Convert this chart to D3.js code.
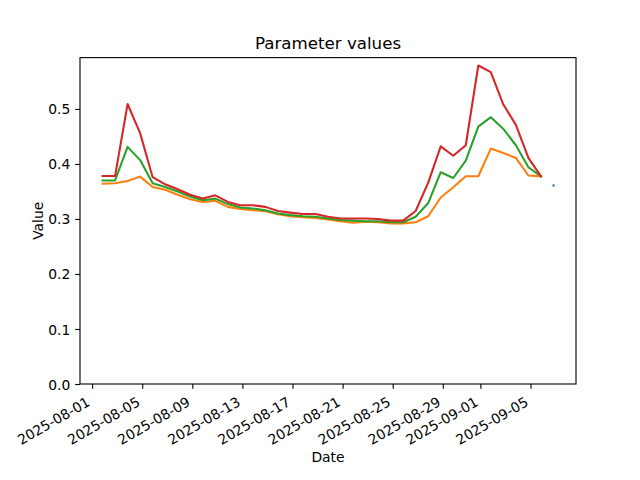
<!DOCTYPE html>
<html>
<head>
<meta charset="utf-8">
<script src="https://d3js.org/d3.v7.min.js"></script>
<style>
  html, body { margin: 0; padding: 0; background: #fff; }
  svg { display: block; font-family: "DejaVu Sans", sans-serif; }
</style>
</head>
<body>
<svg id="chart" width="640" height="480"></svg>
<script>
// ---- data ----
const dates = [
  "2025-08-01T20:00","2025-08-02T20:00","2025-08-03T20:00","2025-08-04T20:00","2025-08-05T20:00",
  "2025-08-06T20:00","2025-08-07T20:00","2025-08-08T20:00","2025-08-09T20:00","2025-08-10T20:00",
  "2025-08-11T20:00","2025-08-12T20:00","2025-08-13T20:00","2025-08-14T20:00","2025-08-15T20:00",
  "2025-08-16T20:00","2025-08-17T20:00","2025-08-18T20:00","2025-08-19T20:00","2025-08-20T20:00",
  "2025-08-21T20:00","2025-08-22T20:00","2025-08-23T20:00","2025-08-24T20:00","2025-08-25T20:00",
  "2025-08-26T20:00","2025-08-27T20:00","2025-08-28T20:00","2025-08-29T20:00","2025-08-30T20:00",
  "2025-08-31T20:00","2025-09-01T20:00","2025-09-02T20:00","2025-09-03T20:00","2025-09-04T20:00",
  "2025-09-05T20:00"
];
const orangeValues = [
  0.364,0.365,0.369,0.377,0.358,0.353,0.344,0.336,0.331,0.333,
  0.322,0.318,0.316,0.314,0.3085,0.305,0.303,0.302,0.299,0.296,
  0.293,0.295,0.294,0.292,0.292,0.294,0.305,0.339,0.3576,0.3776,
  0.3776,0.428,0.420,0.411,0.379,0.3776
];
const greenValues = [
  0.370,0.370,0.431,0.407,0.365,0.358,0.350,0.341,0.334,0.337,
  0.327,0.321,0.319,0.316,0.310,0.307,0.305,0.304,0.301,0.298,
  0.297,0.296,0.296,0.294,0.294,0.304,0.329,0.385,0.3745,0.406,
  0.468,0.485,0.4636,0.434,0.394,0.3776
];
const redValues = [
  0.378,0.378,0.509,0.456,0.376,0.363,0.354,0.344,0.337,0.343,
  0.331,0.325,0.325,0.322,0.3145,0.3115,0.309,0.309,0.304,0.301,
  0.301,0.301,0.300,0.297,0.297,0.3145,0.366,0.432,0.415,0.434,
  0.579,0.567,0.508,0.471,0.411,0.3776
];
const blueDates = ["2025-09-06T20:00"];
const blueValues = [0.361];
const xTickLabels = ["2025-08-01","2025-08-05","2025-08-09","2025-08-13","2025-08-17",
                     "2025-08-21","2025-08-25","2025-08-29","2025-09-01","2025-09-05"];
const yTickValues = [0.0, 0.1, 0.2, 0.3, 0.4, 0.5];
const titleText = "Parameter values";
const xLabelText = "Date";
const yLabelText = "Value";

// ---- layout ----
const W = 640, H = 480;
const mLeft = 80, mRight = 576, mTop = 57.6, mBottom = 384;
const fs = 13.89, titleFs = 16.67;

const parse = d3.timeParse("%Y-%m-%dT%H:%M");
const parseDay = d3.timeParse("%Y-%m-%d");

const series = [
  { color: "#1f77b4", dates: blueDates, values: blueValues },
  { color: "#ff7f0e", dates: dates, values: orangeValues },
  { color: "#2ca02c", dates: dates, values: greenValues },
  { color: "#d62728", dates: dates, values: redValues }
].map(s => ({ color: s.color, pts: s.dates.map((d, i) => ({ t: parse(d), v: s.values[i] })) }));

const allT = series.flatMap(s => s.pts.map(p => +p.t));
const allV = series.flatMap(s => s.pts.map(p => p.v));
const tMin = d3.min(allT), tMax = d3.max(allT);
const tPad = (tMax - tMin) * 0.05;
const vMin = d3.min(allV), vMax = d3.max(allV);
const yTop = vMax + (vMax - vMin) * 0.05;

const x = d3.scaleTime().domain([new Date(tMin - tPad), new Date(tMax + tPad)]).range([mLeft, mRight]);
const y = d3.scaleLinear().domain([0, yTop]).range([mBottom, mTop]);

const svg = d3.select("#chart");
svg.append("rect").attr("width", W).attr("height", H).attr("fill", "#fff");

svg.append("defs").append("clipPath").attr("id", "clip")
  .append("rect").attr("x", mLeft).attr("y", mTop).attr("width", mRight - mLeft).attr("height", mBottom - mTop);

const plot = svg.append("g").attr("clip-path", "url(#clip)");
const line = d3.line().x(p => x(p.t)).y(p => y(p.v));

series.forEach(s => {
  if (s.pts.length > 1) {
    plot.append("path").datum(s.pts)
      .attr("d", line)
      .attr("fill", "none")
      .attr("stroke", s.color)
      .attr("stroke-width", 2.08)
      .attr("stroke-linejoin", "round")
      .attr("stroke-linecap", "square");
  } else {
    plot.selectAll(null).data(s.pts).enter().append("rect")
      .attr("x", p => x(p.t) - 1)
      .attr("y", p => y(p.v) - 1)
      .attr("width", 2.2).attr("height", 2.2)
      .attr("fill", s.color);
  }
});

// axes
const tickLen = 4.86, pad = 4.86;
const xAxis = d3.axisBottom(x)
  .tickValues(xTickLabels.map(parseDay))
  .tickFormat(d3.timeFormat("%Y-%m-%d"))
  .tickSize(tickLen).tickPadding(pad);
const gx = svg.append("g").attr("transform", `translate(0,${mBottom})`).call(xAxis);
gx.select(".domain").remove();
gx.selectAll(".tick line").attr("stroke", "#000").attr("stroke-width", 1.11);
const hLine = fs * 1.164;
gx.selectAll(".tick text")
  .attr("fill", "#000")
  .attr("font-size", fs)
  .attr("font-family", "DejaVu Sans")
  .attr("text-anchor", "end")
  .attr("dy", null)
  .attr("y", -fs * 0.236)
  .attr("x", 0)
  .attr("transform", `translate(0,${tickLen + pad + 0.866 * hLine}) rotate(-30)`);

const yAxis = d3.axisLeft(y)
  .tickValues(yTickValues)
  .tickFormat(d3.format(".1f"))
  .tickSize(tickLen).tickPadding(pad);
const gy = svg.append("g").attr("transform", `translate(${mLeft},0)`).call(yAxis);
gy.select(".domain").remove();
gy.selectAll(".tick line").attr("stroke", "#000").attr("stroke-width", 1.11);
gy.selectAll(".tick text")
  .attr("fill", "#000")
  .attr("font-size", fs)
  .attr("font-family", "DejaVu Sans")
  .attr("dy", "0.36em");

// frame
svg.append("rect")
  .attr("x", mLeft).attr("y", mTop)
  .attr("width", mRight - mLeft).attr("height", mBottom - mTop)
  .attr("fill", "none").attr("stroke", "#000").attr("stroke-width", 1.11);

// title and labels
svg.append("text")
  .attr("x", (mLeft + mRight) / 2).attr("y", 49.3)
  .attr("text-anchor", "middle")
  .attr("font-size", titleFs)
  .attr("fill", "#000")
  .text(titleText);

svg.append("text")
  .attr("x", (mLeft + mRight) / 2).attr("y", 462.3)
  .attr("text-anchor", "middle")
  .attr("font-size", fs)
  .attr("fill", "#000")
  .text(xLabelText);

svg.append("text")
  .attr("transform", `translate(42.7,${(mTop + mBottom) / 2}) rotate(-90)`)
  .attr("text-anchor", "middle")
  .attr("font-size", fs)
  .attr("fill", "#000")
  .text(yLabelText);
</script>
</body>
</html>
